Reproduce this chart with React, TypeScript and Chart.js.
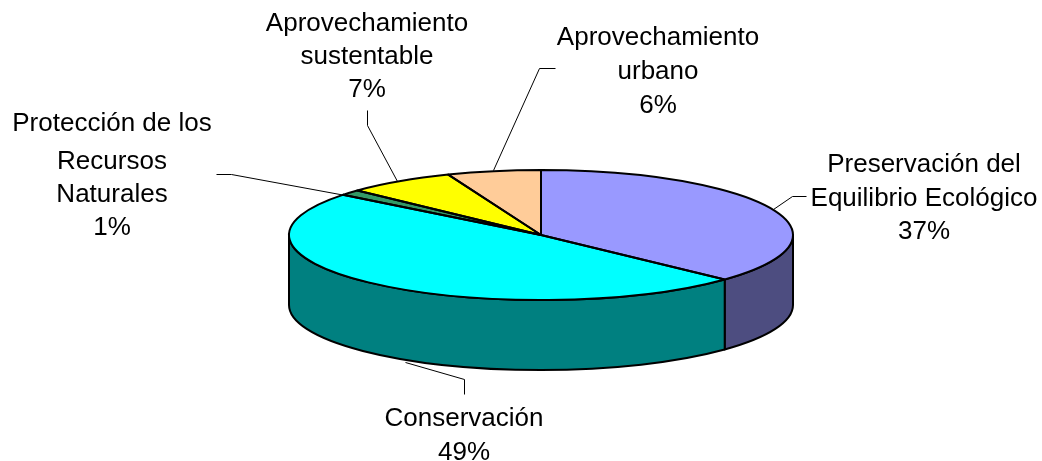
import React, { useEffect, useRef } from "react";
import { Chart, registerables } from "chart.js";

Chart.register(...registerables);

const categories = [
  "Preservación del Equilibrio Ecológico",
  "Conservación",
  "Protección de los Recursos Naturales",
  "Aprovechamiento sustentable",
  "Aprovechamiento urbano",
];
const values = [37, 48.6, 1.4, 7, 6];
const topColors = ["#9999FF", "#00FFFF", "#339966", "#FFFF00", "#FFCC99"];
const sideColors = ["#4D4D80", "#008080", "#1A4D33", "#808000", "#806633"];

const labelLines = [
  { x: 924, lines: [["Preservación del", 165], ["Equilibrio Ecológico", 199], ["37%", 232]] },
  { x: 464, lines: [["Conservación", 419], ["49%", 453]] },
  { x: 112, lines: [["Protección de los", 124], ["Recursos", 162], ["Naturales", 195], ["1%", 228]] },
  { x: 367, lines: [["Aprovechamiento", 24], ["sustentable", 57], ["7%", 90]] },
  { x: 658, lines: [["Aprovechamiento", 38], ["urbano", 72], ["6%", 106]] },
];
const leaders = [
  [[806, 196], [792, 196], [773, 209]],
  [[464, 394], [464, 379], [405, 362]],
  [[216, 174], [231, 174], [345, 195]],
  [[367, 110], [367, 125], [397, 181]],
  [[555, 68], [539, 68], [493, 170]],
];

const RX = 252;
const RY = 65;
const DEPTH = 70;

const pie3d = {
  id: "pie3d",
  beforeDatasetsDraw(chart: any) {
    const ctx = chart.ctx;
    const arcs = chart.getDatasetMeta(0).data;
    const cx = arcs[0].x;
    const cy = arcs[0].y;
    const k = RY / arcs[0].outerRadius;
    ctx.save();
    ctx.lineJoin = "round";
    ctx.strokeStyle = "#000";
    ctx.lineWidth = 2;

    // side walls: only the front half of the rim shows
    arcs.forEach((a: any, i: number) => {
      const s = Math.max(a.startAngle, 0);
      const e = Math.min(a.endAngle, Math.PI);
      if (e <= s) return;
      ctx.beginPath();
      ctx.ellipse(cx, cy, RX, RY, 0, s, e);
      ctx.ellipse(cx, cy + DEPTH, RX, RY, 0, e, s, true);
      ctx.closePath();
      ctx.fillStyle = sideColors[i];
      ctx.fill();
      ctx.stroke();
    });

    // top face: the library's own arc elements, squashed into an ellipse
    ctx.save();
    ctx.translate(cx, cy);
    ctx.scale(1, k);
    ctx.translate(-cx, -cy);
    arcs.forEach((a: any) => a.draw(ctx));
    ctx.restore();

    // outlines at an even line width
    arcs.forEach((a: any) => {
      ctx.beginPath();
      ctx.moveTo(cx, cy);
      ctx.ellipse(cx, cy, RX, RY, 0, a.startAngle, a.endAngle);
      ctx.closePath();
      ctx.stroke();
    });
    ctx.restore();
    return false;
  },
  afterDraw(chart: any) {
    const ctx = chart.ctx;
    ctx.save();
    ctx.strokeStyle = "#000";
    ctx.lineWidth = 1;
    leaders.forEach((pts) => {
      ctx.beginPath();
      pts.forEach(([x, y], i) => (i ? ctx.lineTo(x + 0.5, y + 0.5) : ctx.moveTo(x + 0.5, y + 0.5)));
      ctx.stroke();
    });
    ctx.fillStyle = "#000";
    ctx.font = '26px "Liberation Sans", Arial, sans-serif';
    ctx.textAlign = "center";
    ctx.textBaseline = "middle";
    labelLines.forEach((l) => {
      l.lines.forEach(([t, y]) => ctx.fillText(t as string, l.x, y as number));
    });
    ctx.restore();
  },
};

export default function App() {
  const ref = useRef<HTMLCanvasElement>(null);
  useEffect(() => {
    const chart = new Chart(ref.current!, {
      type: "pie",
      data: {
        labels: categories,
        datasets: [{ data: values, backgroundColor: topColors, borderWidth: 0 }],
      },
      options: {
        responsive: false,
        animation: false,
        radius: RX,
        layout: { padding: { top: 9, left: 40, right: 0, bottom: 0 } },
        plugins: { legend: { display: false }, title: { display: false }, tooltip: { enabled: false } },
      } as any,
      plugins: [pie3d],
    });
    return () => chart.destroy();
  }, []);
  return (
    <canvas
      ref={ref}
      width={1042}
      height={461}
      style={{ position: "absolute", left: 0, top: 0, width: 1042, height: 461, display: "block" }}
    />
  );
}
